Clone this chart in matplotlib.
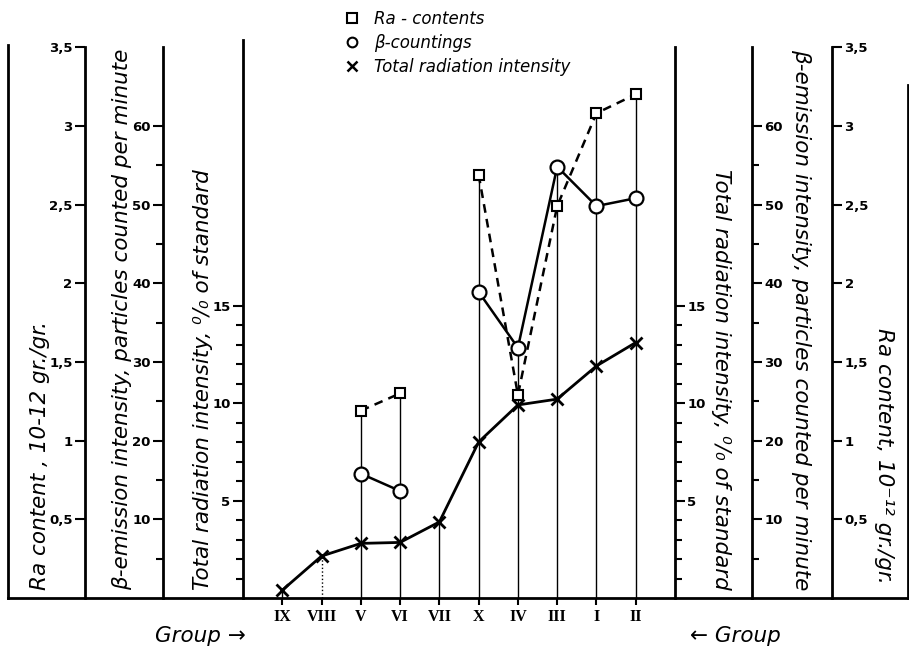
import numpy as np
import matplotlib
matplotlib.use("Agg")
import matplotlib.pyplot as plt
from matplotlib.lines import Line2D

# groups in plotting order (left to right)
groups = ["IX", "VIII", "V", "VI", "VII", "X", "IV", "III", "I", "II"]

# total radiation intensity, % of standard
total_radiation = [0.4, 2.15, 2.8, 2.85, 3.9, 8.0, 9.9, 10.2, 11.9, 13.1]
# beta countings, particles per minute
beta_countings = [np.nan, np.nan, 15.8, 13.6, np.nan, 38.9, 31.8, 54.8, 49.8, 50.8]
# Ra contents, 10^-12 gr./gr.
ra_contents = [np.nan, np.nan, 1.19, 1.30, np.nan, 2.69, 1.29, 2.49, 3.08, 3.20]

ra_ticks = [0.5, 1, 1.5, 2, 2.5, 3, 3.5]
ra_ticklabels = ["0,5", "1", "1,5", "2", "2,5", "3", "3,5"]
beta_ticks = [10, 20, 30, 40, 50, 60]
beta_minor = [5, 15, 25, 35, 45, 55]
total_ticks = [5, 10, 15]
total_minor = [1, 2, 3, 4, 6, 7, 8, 9, 11, 12, 13, 14]

W, H = 909, 659


def fx(px):
    return px / W


def fy(py):
    return 1 - py / H


BASE, TOP = 598, 40
AX_L, AX_R = 243, 675          # pixel x of the two total-radiation axes
unit = (AX_R - AX_L) / 11.0    # pixels per group step

fig = plt.figure(figsize=(W / 100, H / 100), dpi=100)
ax = fig.add_axes([fx(8), fy(BASE), (908 - 8) / W, (BASE - TOP) / H])
ax.set_xlim(-(AX_L - 8) / unit, 11 + (908 - AX_R) / unit)

ax_beta = ax.twinx()
ax_ra = ax.twinx()
ax_frame = ax.twinx()

ax.set_ylim(0, (BASE - TOP) / 19.5)
ax_beta.set_ylim(0, (BASE - TOP) / 7.87)
ax_ra.set_ylim(0, (BASE - TOP) / 157.4)
ax_frame.set_ylim(0, 1)

lw_sp = 2.0
for a in [ax, ax_beta, ax_ra, ax_frame]:
    a.spines["top"].set_visible(False)
    for s in ["left", "right", "bottom"]:
        a.spines[s].set_linewidth(lw_sp)
for a in [ax_beta, ax_ra, ax_frame]:
    a.spines["bottom"].set_visible(False)

# spine positions
ax.spines["left"].set_position(("data", 0))
ax.spines["right"].set_position(("data", 11))
ax.spines["right"].set_bounds(0, (BASE - 47) / 19.5)
ax_beta.spines["left"].set_position(("data", (163 - AX_L) / unit))
ax_beta.spines["right"].set_position(("data", 11 + (752 - AX_R) / unit))
ax_beta.spines["left"].set_bounds(0, 70)
ax_beta.spines["right"].set_bounds(0, 70)
ax_ra.spines["left"].set_position(("data", (85 - AX_L) / unit))
ax_ra.spines["right"].set_position(("data", 11 + (832 - AX_R) / unit))
ax_ra.spines["left"].set_bounds(0, 3.5)
ax_ra.spines["right"].set_bounds(0, 3.5)
ax_frame.spines["left"].set_bounds(0, (BASE - 45) / (BASE - TOP))
ax_frame.spines["right"].set_bounds(0, (BASE - 85) / (BASE - TOP))
ax_frame.set_yticks([])

for a, maj, lab, mnr in [
    (ax, total_ticks, [str(t) for t in total_ticks], total_minor),
    (ax_beta, beta_ticks, [str(t) for t in beta_ticks], beta_minor),
    (ax_ra, ra_ticks, ra_ticklabels, []),
]:
    a.yaxis.set_ticks_position("both")
    a.set_yticks(maj, labels=lab)
    a.set_yticks(mnr, minor=True)
    a.tick_params(axis="y", which="major", direction="out", length=7, width=1.5,
                  pad=2, labelleft=True, labelright=True, labelsize=9.5)
    a.tick_params(axis="y", which="minor", direction="out", length=5, width=1.5)
    for t in a.get_yticklabels():
        t.set_fontweight("bold")

# group ticks on the baseline
xpos = np.arange(1, len(groups) + 1)
ax.set_xticks(xpos, labels=groups)
ax.tick_params(axis="x", direction="out", length=5, width=1.5, pad=3)
for t in ax.get_xticklabels():
    t.set_family("Liberation Serif")
    t.set_fontweight("bold")
    t.set_fontsize(11.5)

# vertical lines from baseline up to the highest point of each group
tops = np.nanmax(np.vstack([
    np.array(total_radiation) / ax.get_ylim()[1],
    np.array(beta_countings) / ax_beta.get_ylim()[1],
    np.array(ra_contents) / ax_ra.get_ylim()[1],
]), axis=0)
for x, t, g in zip(xpos, tops, groups):
    ax.plot([x, x], [0, t], transform=ax.get_xaxis_transform(), color="black",
            lw=1.0, ls=":" if g == "VIII" else "-", zorder=1)

# series
ax_ra.plot(xpos, ra_contents, color="black", lw=1.8, ls=(0, (3.5, 2.5)),
           marker="s", ms=7, mfc="white", mec="black", mew=1.5, zorder=3)
ax_beta.plot(xpos, beta_countings, color="black", lw=1.8, ls="-",
             marker="o", ms=10, mfc="white", mec="black", mew=1.6, zorder=3)
ax.plot(xpos, total_radiation, color="black", lw=2.0, ls="-",
        marker="x", ms=9, mec="black", mew=2.0, zorder=3)

# axis titles
lab_font = dict(fontsize=15.5, style="italic", family="DejaVu Sans")
fig.text(fx(40), fy(590), "Ra content , 10-12 gr./gr.", rotation=90,
         ha="center", va="bottom", **lab_font)
fig.text(fx(122), fy(590), "β-emission intensity, particles counted per minute",
         rotation=90, ha="center", va="bottom", **lab_font)
fig.text(fx(203), fy(590), "Total radiation intensity, ⁰/₀ of standard",
         rotation=90, ha="center", va="bottom", **lab_font)
fig.text(fx(721), fy(590), "Total radiation intensity, ⁰/₀ of standard",
         rotation=-90, ha="center", va="bottom", **lab_font)
fig.text(fx(801), fy(590), "β-emission intensity, particles counted per minute",
         rotation=-90, ha="center", va="bottom", **lab_font)
fig.text(fx(884), fy(584), "Ra content, 10⁻¹² gr./gr.",
         rotation=-90, ha="center", va="bottom", **lab_font)

fig.text(fx(200), fy(636), "Group →", ha="center", va="center", **lab_font)
fig.text(fx(735), fy(636), "← Group", ha="center", va="center", **lab_font)

# legend
handles = [
    Line2D([], [], ls="none", marker="s", ms=7, mfc="white", mec="black", mew=1.5),
    Line2D([], [], ls="none", marker="o", ms=7, mfc="white", mec="black", mew=1.5),
    Line2D([], [], ls="none", marker="x", ms=7, mec="black", mew=1.8),
]
fig.legend(handles, ["Ra - contents", "β-countings", "Total radiation intensity"],
           loc="upper left", bbox_to_anchor=(fx(334), fy(0)), frameon=False,
           prop=dict(style="italic", size=12), handlelength=1.0,
           handletextpad=0.8, labelspacing=0.35, borderaxespad=0.2)

fig.savefig("out.png", dpi=100)
